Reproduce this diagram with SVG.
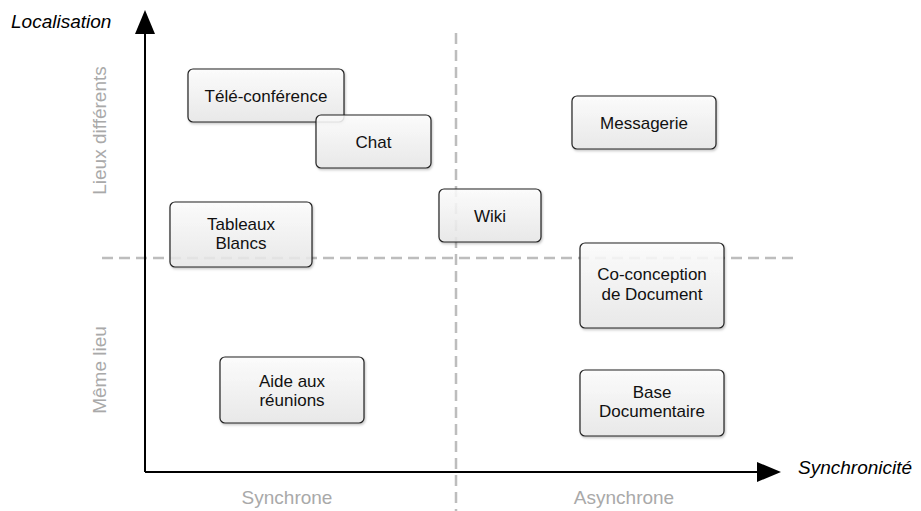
<svg xmlns="http://www.w3.org/2000/svg" width="921" height="511" viewBox="0 0 921 511">
<defs>
<linearGradient id="boxfill" x1="0" y1="0" x2="0" y2="1">
<stop offset="0" stop-color="#ffffff"/>
<stop offset="1" stop-color="#e9e9e9"/>
</linearGradient>
<filter id="shadow" x="-10%" y="-10%" width="130%" height="140%">
<feDropShadow dx="1" dy="1.5" stdDeviation="1.2" flood-color="#000" flood-opacity="0.25"/>
</filter>
<marker id="arrow" viewBox="0 0 24 20" refX="0" refY="10" markerWidth="24" markerHeight="20" markerUnits="userSpaceOnUse" orient="auto">
<path d="M0,0 L24,10 L0,20 Z" fill="#000"/>
</marker>
<style>
.box{fill:url(#boxfill);fill-opacity:0.85;stroke:#222;stroke-width:1.2;filter:url(#shadow)}
.lbl{font-family:"Liberation Sans",Arial,Helvetica,sans-serif;font-size:17px;fill:#111;text-anchor:middle}
.title{font-family:"Liberation Sans",Arial,Helvetica,sans-serif;font-size:19px;font-style:italic;fill:#000}
.cat{font-family:"Liberation Sans",Arial,Helvetica,sans-serif;font-size:19px;fill:#a9a9a9;text-anchor:middle}
.dash{stroke:#bdbdbd;stroke-width:2.5;stroke-dasharray:11 6;fill:none}
.axis{stroke:#000;stroke-width:2;fill:none}
</style>
</defs>
<rect width="921" height="511" fill="#fff"/>

<g id="guides">
<line class="dash" x1="102" y1="258" x2="797" y2="258"/>
<line class="dash" x1="456" y1="33" x2="456" y2="511"/>
</g>

<g id="connectors">
<line class="axis" x1="145" y1="472" x2="145" y2="34" marker-end="url(#arrow)"/>
<line class="axis" x1="145" y1="472" x2="757" y2="472" marker-end="url(#arrow)"/>
</g>

<g id="axis-labels">
<text class="title" x="11" y="28">Localisation</text>
<text class="title" x="798" y="474">Synchronicité</text>
<text class="cat" x="287" y="504">Synchrone</text>
<text class="cat" x="624" y="504">Asynchrone</text>
<text class="cat" transform="translate(106,130.5) rotate(-90)">Lieux différents</text>
<text class="cat" transform="translate(106,370) rotate(-90)">Même lieu</text>
</g>

<g id="node-teleconference">
<rect class="box" x="188" y="69" width="156" height="53" rx="5"/>
<text class="lbl" x="266" y="101.5">Télé-conférence</text>
</g>
<g id="node-chat">
<rect class="box" x="316" y="115" width="115" height="53" rx="5"/>
<text class="lbl" x="373.5" y="147.5">Chat</text>
</g>
<g id="node-tableaux">
<rect class="box" x="170" y="202" width="142" height="65" rx="5"/>
<text class="lbl" x="241" y="230">Tableaux</text>
<text class="lbl" x="241" y="249">Blancs</text>
</g>
<g id="node-wiki">
<rect class="box" x="439" y="189" width="102" height="53" rx="5"/>
<text class="lbl" x="490" y="221.5">Wiki</text>
</g>
<g id="node-messagerie">
<rect class="box" x="572" y="96" width="144" height="53" rx="5"/>
<text class="lbl" x="644" y="128.5">Messagerie</text>
</g>
<g id="node-coconception">
<rect class="box" x="580" y="243" width="144" height="85" rx="5"/>
<text class="lbl" x="652" y="280">Co-conception</text>
<text class="lbl" x="652" y="300">de Document</text>
</g>
<g id="node-aide">
<rect class="box" x="220" y="357" width="144" height="66" rx="5"/>
<text class="lbl" x="292" y="387">Aide aux</text>
<text class="lbl" x="292" y="406">réunions</text>
</g>
<g id="node-base">
<rect class="box" x="580" y="370" width="144" height="66" rx="5"/>
<text class="lbl" x="652" y="398">Base</text>
<text class="lbl" x="652" y="417">Documentaire</text>
</g>
</svg>
